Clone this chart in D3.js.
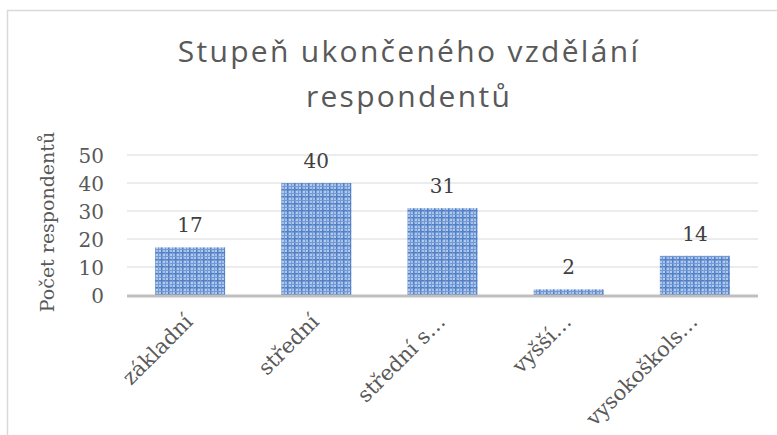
<!DOCTYPE html>
<meta charset="utf-8">
<style>
body { margin: 0; background: #fff; }
text { fill: #404040; }
.tick text { font: 20px "DejaVu Serif", serif; fill: #595959; }
.grid line { stroke: #e6e6e6; stroke-width: 1.5px; }
.label { font: 20px "DejaVu Serif", serif; text-anchor: middle; fill: #404040; }
.cat { font: 21px "DejaVu Serif", serif; fill: #595959; }
.title { font: 30px "Open Sans", sans-serif; letter-spacing: 2.3px; fill: #595959; text-anchor: middle; }
.ytitle { font: 19px "DejaVu Serif", serif; fill: #595959; text-anchor: middle; }
</style>
<svg width="777" height="435"></svg>
<script src="https://d3js.org/d3.v7.min.js"></script>
<script>

const categories = ['základní', 'střední', 'střední s…', 'vyšší…', 'vysokoškols…'];
const values = [17, 40, 31, 2, 14];
const yTicks = [0, 10, 20, 30, 40, 50];
const titleLines = ['Stupeň ukončeného vzdělání', 'respondentů'];
const yTitle = 'Počet respondentů';

const svg = d3.select('svg');

// chart frame
svg.append('rect')
  .attr('x', 7.5).attr('y', 10.5)
  .attr('width', 800).attr('height', 500)
  .attr('fill', '#fff')
  .attr('stroke', '#d9d9d9')
  .attr('stroke-width', 1.5);

// plaid fill like the excel pattern
const defs = svg.append('defs');
const pat = defs.append('pattern')
  .attr('id', 'plaid')
  .attr('patternUnits', 'userSpaceOnUse')
  .attr('width', 7).attr('height', 7);
pat.append('rect').attr('width', 7).attr('height', 7).attr('fill', '#a6c0e7');
pat.append('rect').attr('x', 0).attr('y', 0).attr('width', 7).attr('height', 1.5).attr('fill', '#5080c8');
pat.append('rect').attr('x', 0).attr('y', 0).attr('width', 1.5).attr('height', 7).attr('fill', '#5080c8');
pat.append('rect').attr('x', 0).attr('y', 4).attr('width', 7).attr('height', 1).attr('fill', '#7399d4');
pat.append('rect').attr('x', 4).attr('y', 0).attr('width', 1).attr('height', 7).attr('fill', '#7399d4');
pat.append('rect').attr('x', 2.5).attr('y', 2.5).attr('width', 1).attr('height', 1).attr('fill', '#e4ecf8');
pat.append('rect').attr('x', 5.5).attr('y', 5.5).attr('width', 1).attr('height', 1).attr('fill', '#e4ecf8');

const plotLeft = 127, plotRight = 758, plotTop = 155, plotBottom = 295;

const x = d3.scaleBand()
  .domain(categories)
  .range([plotLeft, plotRight])
  .paddingInner(0.445)
  .paddingOuter(0.2225);

const y = d3.scaleLinear()
  .domain([0, 50])
  .range([plotBottom, plotTop]);

// gridlines
svg.append('g')
  .attr('class', 'grid')
  .selectAll('line')
  .data(yTicks.slice(1))
  .join('line')
  .attr('x1', plotLeft).attr('x2', plotRight)
  .attr('y1', d => y(d)).attr('y2', d => y(d));

// y axis labels
const yAxis = svg.append('g')
  .attr('transform', `translate(${plotLeft - 23},0)`)
  .call(d3.axisLeft(y).tickValues(yTicks).tickSize(0).tickPadding(0));
yAxis.select('.domain').remove();
yAxis.selectAll('.tick text').attr('dy', '0.36em');

// bars
svg.append('g')
  .selectAll('rect')
  .data(values)
  .join('rect')
  .attr('x', (d, i) => x(categories[i]))
  .attr('y', d => y(d))
  .attr('width', x.bandwidth())
  .attr('height', d => y(0) - y(d))
  .attr('fill', 'url(#plaid)');

// baseline
svg.append('line')
  .attr('x1', plotLeft).attr('x2', plotRight)
  .attr('y1', plotBottom + 1).attr('y2', plotBottom + 1)
  .attr('stroke', '#bfbfbf')
  .attr('stroke-width', 3);

// value labels
svg.append('g')
  .selectAll('text')
  .data(values)
  .join('text')
  .attr('class', 'label')
  .attr('x', (d, i) => x(categories[i]) + x.bandwidth() / 2)
  .attr('y', d => y(d) - 15)
  .text(d => d);

// category labels
svg.append('g')
  .selectAll('text')
  .data(categories)
  .join('text')
  .attr('class', 'cat')
  .attr('text-anchor', 'end')
  .attr('transform', d => `translate(${x(d) + x.bandwidth() / 2 + 4},${plotBottom + 28}) rotate(-45)`)
  .text(d => d);

// titles
svg.append('g')
  .selectAll('text')
  .data(titleLines)
  .join('text')
  .attr('class', 'title')
  .attr('x', 409)
  .attr('y', (d, i) => 62 + i * 45)
  .text(d => d);

svg.append('text')
  .attr('class', 'ytitle')
  .attr('transform', 'translate(54,222) rotate(-90)')
  .text(yTitle);

</script>
